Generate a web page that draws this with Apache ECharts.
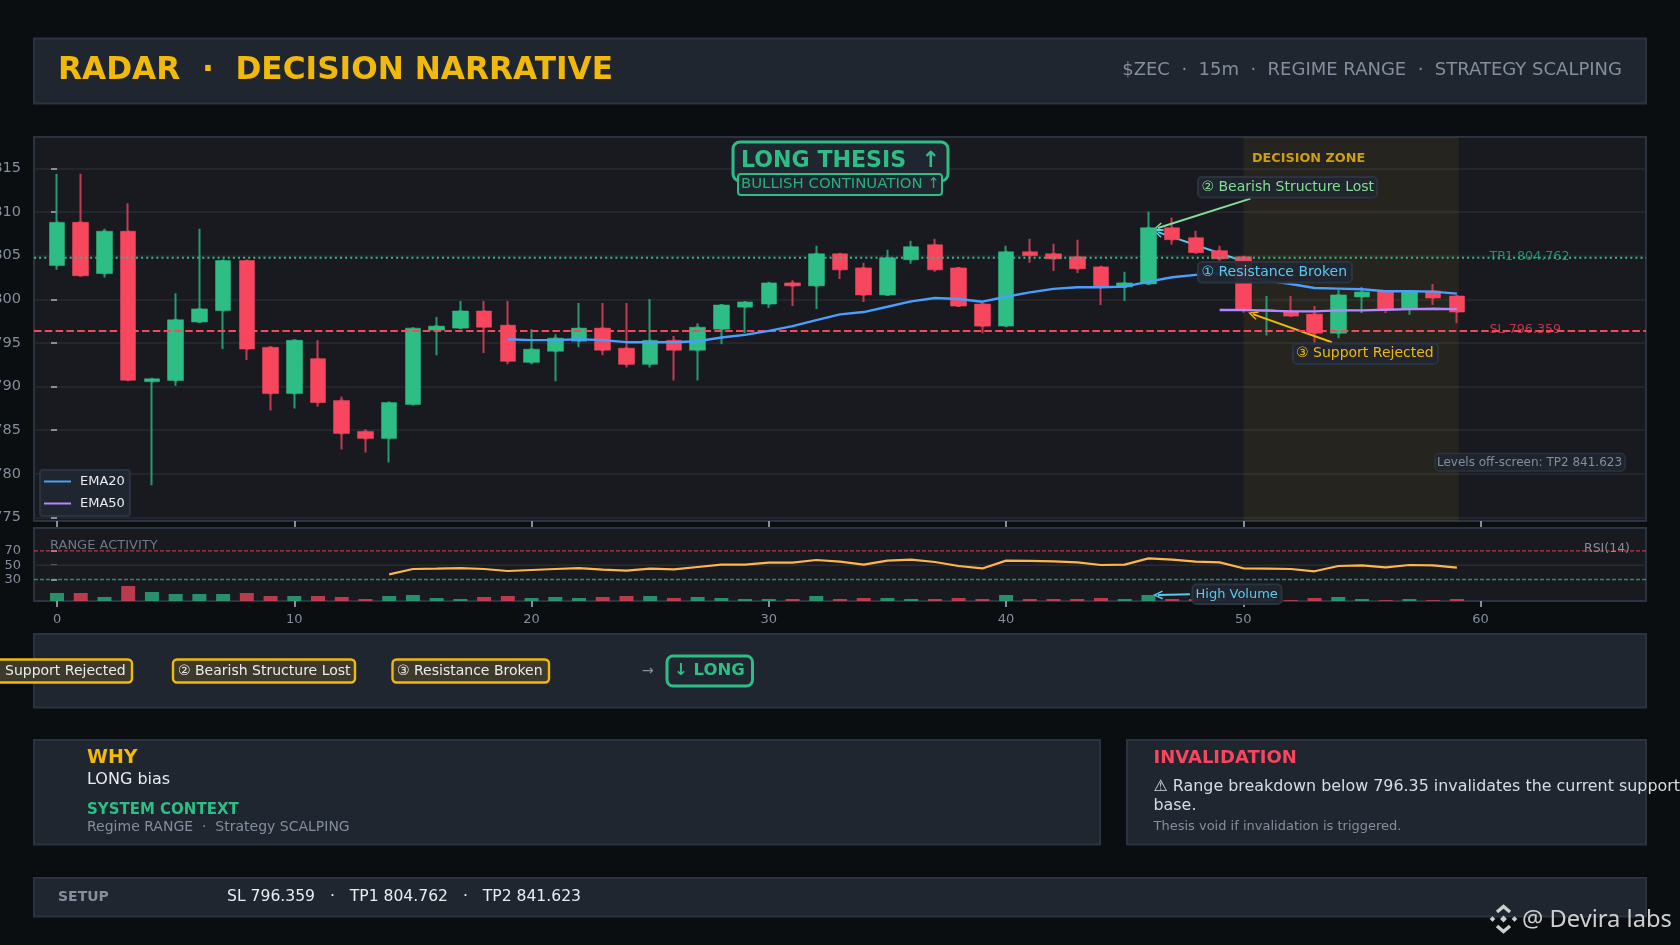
<!DOCTYPE html>
<html><head><meta charset="utf-8">
<style>html,body{margin:0;padding:0;background:#0b0e11;overflow:hidden}#c{width:1680px;height:945px}</style>
<script src="https://cdn.jsdelivr.net/npm/echarts@6/dist/echarts.min.js"></script></head>
<body><div id="c"></div>
<script>
const indices=[0,1,2,3,4,5,6,7,8,9,10,11,12,13,14,15,16,17,18,19,20,21,22,23,24,25,26,27,28,29,30,31,32,33,34,35,36,37,38,39,40,41,42,43,44,45,46,47,48,49,50,51,52,53,54,55,56,57,58,59];
const opens=[803.87,808.82,802.95,807.8,790.57,790.7,797.4,798.7,804.45,794.5,789.2,793.2,788.4,784.86,784.06,787.95,796.47,796.7,798.66,797.04,792.78,794.05,795.2,796.7,794.4,792.55,795.3,794.17,796.58,799.1,799.46,801.88,801.54,805.22,803.6,800.5,804.53,806.26,803.6,799.46,796.93,805.45,805.22,804.88,803.72,801.42,801.77,808.2,807.06,805.57,804.88,798.65,798.66,798.3,796.12,800.27,800.96,798.89,800.96,800.38];
const closes=[808.82,802.7,807.8,790.73,790.9,797.65,798.9,804.45,794.3,789.2,795.3,788.17,784.63,784.06,788.17,796.7,796.93,798.66,796.8,792.9,794.28,795.55,796.7,794.17,792.55,795.3,794.17,796.8,799.35,799.7,801.88,801.54,805.22,803.38,800.5,804.76,806.03,803.38,799.23,796.93,805.45,805,804.64,803.5,801.42,801.88,808.2,806.83,805.34,804.64,798.77,798.8,798.08,796.12,800.5,800.84,798.77,800.96,800.15,798.54];
const lows=[803.4,802.7,802.5,790.73,778.7,790.1,797.4,794.3,793.05,787.26,787.5,787.7,782.8,782.46,781.3,787.95,793.6,796.58,793.86,792.55,792.55,790.6,794.5,793.6,792.2,792.2,790.7,790.7,794.86,796.1,799,799.23,798.9,802.34,799.7,800.5,804.07,803.15,799.23,796.12,796.93,804.18,803.26,803.03,799.35,799.8,801.65,806.26,805.22,804.41,798.46,795.85,797.97,794.97,795.55,798.43,798.43,798.2,799.35,797.27];
const highs=[814.4,814.4,808.1,811,790.9,800.7,808.1,804.45,804.55,794.5,795.3,795.3,788.86,785.1,788.17,796.8,797.97,799.8,799.8,799.8,796.58,796,799.58,799.58,799.58,800.04,795.8,797.27,799.35,799.7,802,802.2,806.14,805.22,804.18,805.68,806.72,806.95,803.6,799.46,806.14,806.95,806.37,806.83,803.72,803.15,810.06,809.37,807.87,806.14,804.88,800.38,800.38,799.23,801.07,801.42,800.96,800.96,801.76,800.38];
const volumes=[8,8,4,15,9,7,7,7,8,5,5,5,4,2,5,6,3,2,4,5,3,4,3,4,5,5,3,4,3,2,2,2,5,2,3,3,2,2,3,2,6,2,2,2,3,2,6,2,2,2,2,2,0.8,3,4,2,0.8,2,0.8,2];
const ema20=[null,null,null,null,null,null,null,null,null,null,null,null,null,null,null,null,null,null,null,795.43,795.32,795.32,795.43,795.32,795.09,795.09,795.09,795.2,795.62,795.93,796.39,796.93,797.62,798.27,798.54,799.15,799.77,800.15,800.04,799.73,800.3,800.8,801.2,801.38,801.38,801.46,802.03,802.53,802.8,803,802.6,802.15,801.76,801.3,801.23,801.15,800.92,800.92,800.88,800.65];
const ema50=[null,null,null,null,null,null,null,null,null,null,null,null,null,null,null,null,null,null,null,null,null,null,null,null,null,null,null,null,null,null,null,null,null,null,null,null,null,null,null,null,null,null,null,null,null,null,null,null,null,798.77,798.77,798.7,798.62,798.62,798.73,798.73,798.81,798.88,798.92,798.88];
const rsi=[null,null,null,null,null,null,null,null,null,null,null,null,null,null,37.3,44.7,45.2,46,44.7,41.9,43.3,44.7,46,43.8,42.4,45.2,44.2,47.5,50.8,50.8,53.6,53.6,57.3,55,50.8,56.4,57.8,54.5,48.9,45.5,56.4,56,55.4,54,50.3,50.8,59.6,57.8,55,54,45.7,45.2,44.7,41.5,48.9,49.9,47,50.3,49.9,46.6];
const xTicks=[0,10,20,30,40,50,60];
const priceTicks=[775,780,785,790,795,800,805,810,815];
const rsiTicks=[30,50,70];
const sl=796.359, tp1=804.762;
const zone=[50,59.08];
const xRange=[-0.97,66.97], priceRange=[774.6,818.6], rsiRange=[0,102], volRange=[0,73];

const UP='#2ebd85',DN='#f9465f',UPW='#26996f',DNW='#c43a50',YEL='#f0b90b',GR='#848e9c',TXT='#eaecef',
 PANEL='#1f2630',BORDER='#2b3340',CHART='#181a20',CY='#5cc8f0',LG='#86dd96';
const F='"DejaVu Sans"';

const wickData=indices.map(i=>[i,opens[i],closes[i],lows[i],highs[i]]);
const bodyData=indices.map(i=>[i,opens[i],closes[i],Math.min(opens[i],closes[i]),Math.max(opens[i],closes[i])]);
const pts=a=>indices.map(i=>[i,a[i]]);
const tag=(s)=>({type:'value',gridIndex:s,min:xRange[0],max:xRange[1],
 axisLine:{show:false},splitLine:{show:false},
 axisTick:{show:true,length:6,customValues:xTicks,lineStyle:{color:GR,width:2}},
 axisLabel:{show:s===1,customValues:xTicks,color:GR,fontFamily:F,fontSize:13,margin:12}});

function panel(x,y,w,h,fill){return {type:'rect',silent:true,z:-5,shape:{x,y,width:w,height:h},style:{fill:fill||PANEL,stroke:BORDER,lineWidth:2}};}
function txt(x,y,t,size,color,o={}){return {type:'text',silent:true,z:o.z||50,style:Object.assign({x,y,text:t,fontFamily:o.font||F,fontSize:size,fontWeight:o.w||'normal',fill:color,align:o.a||'left',verticalAlign:'middle',opacity:o.o==null?1:o.o},o.extra||{})};}
function box(x,y,w,h,fill,stroke,lw,r,z){return {type:'rect',silent:true,z:z||48,shape:{x,y,width:w,height:h,r:r||4},style:{fill,stroke,lineWidth:lw}};}
function dia(cx,cy,r,c){return {type:'polygon',silent:true,z:50,shape:{points:[[cx,cy-r],[cx+r,cy],[cx,cy+r],[cx-r,cy]]},style:{fill:c}};}
function chevr(pts,c){return {type:'polyline',silent:true,z:50,shape:{points:pts},style:{stroke:c,lineWidth:3.4,fill:null}};}

const ARROW='path://M0,11 L5,0 L10,11 L8.4,11.8 L5,3.6 L1.6,11.8 Z';
function arrow(from,to,c,xi,yi){return {name:c,type:'line',xAxisIndex:xi,yAxisIndex:yi,data:[],silent:true,z:30,
 markLine:{silent:true,animation:false,symbol:['none',ARROW],symbolSize:[9,10],label:{show:false},lineStyle:{color:c,width:2,type:'solid'},emphasis:{disabled:true},
 data:[[{coord:from,symbol:'none'},{coord:to}]]}};}

const option={animation:false,backgroundColor:'#0b0e11',
 grid:[{left:34,top:137,width:1612,height:384,show:true,backgroundColor:CHART,borderColor:BORDER,borderWidth:2,z:0,outerBoundsMode:'none'},
       {left:34,top:528,width:1612,height:73,show:true,backgroundColor:CHART,borderColor:BORDER,borderWidth:2,z:0,outerBoundsMode:'none'}],
 xAxis:[tag(0),tag(1)],
 yAxis:[{type:'value',gridIndex:0,min:priceRange[0],max:priceRange[1],
   axisLine:{show:false},axisTick:{show:true,length:6,customValues:priceTicks,lineStyle:{color:GR,width:2}},
   axisLabel:{customValues:priceTicks,color:GR,fontFamily:F,fontSize:14.5,margin:13},
   splitLine:{show:true,lineStyle:{color:'#282b31',width:1.5}}},
  {type:'value',gridIndex:1,min:rsiRange[0],max:rsiRange[1],
   axisLine:{show:false},axisTick:{show:true,length:6,customValues:rsiTicks,lineStyle:{color:GR,width:2}},
   axisLabel:{customValues:rsiTicks,color:GR,fontFamily:F,fontSize:13,margin:13},
   splitLine:{show:false}},
  {type:'value',gridIndex:1,min:volRange[0],max:volRange[1],show:false,splitLine:{show:false}}],
 legend:{left:40,top:470,orient:'vertical',data:['EMA20','EMA50'],icon:'rect',itemWidth:27,itemHeight:2,itemGap:9,
   backgroundColor:'#1f2630',borderColor:BORDER,borderWidth:2,borderRadius:3,padding:[5,5,6,4],
   textStyle:{color:TXT,fontFamily:F,fontSize:13,padding:[0,0,0,4]},selectedMode:false,z:40},
 series:[
  {name:'zone',type:'line',data:[],silent:true,z:1,markArea:{silent:true,animation:false,itemStyle:{color:'rgba(240,185,11,0.065)'},label:{show:false},data:[[{xAxis:zone[0]},{xAxis:zone[1]}]]}},
  {name:'wicks',type:'candlestick',xAxisIndex:0,yAxisIndex:0,data:wickData,barWidth:2,silent:true,z:4,
   itemStyle:{color:UPW,color0:DNW,borderColor:UPW,borderColor0:DNW,borderWidth:2}},
  {name:'bodies',type:'candlestick',xAxisIndex:0,yAxisIndex:0,data:bodyData,barWidth:16,silent:true,z:5,
   itemStyle:{color:UP,color0:DN,borderColor:UP,borderColor0:DN,borderWidth:0.5}},
  {name:'TP1',type:'line',data:[[xRange[0],tp1],[xRange[1],tp1]],symbol:'none',silent:true,z:8,lineStyle:{color:UP,width:2,type:[2,3.1]}},
  {name:'SL',type:'line',data:[[xRange[0],sl],[xRange[1],sl]],symbol:'none',silent:true,z:8,lineStyle:{color:DN,width:2,type:[7.5,3.3]}},
  {name:'EMA20',type:'line',data:pts(ema20),symbol:'none',connectNulls:false,silent:true,z:10,lineStyle:{color:'#4a9eff',width:2.4},itemStyle:{color:'#4a9eff'}},
  {name:'EMA50',type:'line',data:pts(ema50),symbol:'none',silent:true,z:10,lineStyle:{color:'#b388ff',width:2.4},itemStyle:{color:'#b388ff'}},
  {name:'volume',type:'bar',xAxisIndex:1,yAxisIndex:2,barWidth:14,silent:true,z:4,
   data:indices.map(i=>({value:[i,volumes[i]],itemStyle:{color:closes[i]>=opens[i]?'rgba(46,189,133,0.72)':'rgba(249,70,95,0.72)'}}))},
  {name:'rsi50',type:'line',xAxisIndex:1,yAxisIndex:1,data:[[xRange[0],50],[xRange[1],50]],symbol:'none',silent:true,z:3,lineStyle:{color:'#282b31',width:1.5}},
  {name:'rsi70',type:'line',xAxisIndex:1,yAxisIndex:1,data:[[xRange[0],70],[xRange[1],70]],symbol:'none',silent:true,z:5,lineStyle:{color:'rgba(249,70,95,0.7)',width:1.4,type:[4,2]}},
  {name:'rsi30',type:'line',xAxisIndex:1,yAxisIndex:1,data:[[xRange[0],30],[xRange[1],30]],symbol:'none',silent:true,z:5,lineStyle:{color:'rgba(46,189,133,0.7)',width:1.4,type:[4,2]}},
  {name:'RSI',type:'line',xAxisIndex:1,yAxisIndex:1,data:pts(rsi),symbol:'none',silent:true,z:8,lineStyle:{color:'#ffb547',width:2.2}},
  arrow([50.3,811.54],[46.4,808.17],LG,0,0),
  arrow([49.87,804.47],[46.4,807.7],CY,0,0),
  arrow([53.73,795.08],[50.4,798.3],YEL,0,0),
  arrow([47.75,6.7],[46.4,6],CY,1,2)
 ],
 graphic:[
  panel(34,38.5,1612,65),
  panel(34,634,1612,73.5),
  panel(34,740,1066,104.5),
  panel(1127,740,519,104.5),
  panel(34,878,1612,38.5),
  // header
  txt(58,70.5,'RADAR  ·  DECISION NARRATIVE',31.2,YEL,{w:'bold'}),
  txt(1622,70.5,'$ZEC  ·  15m  ·  REGIME RANGE  ·  STRATEGY SCALPING',18,GR,{a:'right'}),
  // chart overlays
  box(733,142,215,39,PANEL,UP,3,7,46),
  txt(741,161.5,'LONG THESIS  ↑',22.1,UP,{w:'bold',z:47}),
  box(738,174,204,21,PANEL,UP,2,3,48),
  txt(741,184,'BULLISH CONTINUATION ↑',14.9,UP,{z:49,o:0.9}),
  txt(1252,159,'DECISION ZONE',12.8,'#cf9f10',{w:'bold'}),
  box(1198,177,179,20.5,'rgba(31,38,48,0.92)',BORDER,2),
  txt(1201.5,187.5,'② Bearish Structure Lost',14,LG),
  box(1198,262,154,20.5,'rgba(31,38,48,0.92)',BORDER,2),
  txt(1201.5,272,'① Resistance Broken',14,CY),
  box(1293,343.5,145,20.5,'rgba(31,38,48,0.92)',BORDER,2),
  txt(1296,353.5,'③ Support Rejected',14,YEL),
  txt(1489.5,257,'TP1 804.762',12.7,UP,{o:0.7,z:6}),
  txt(1489.5,330,'SL 796.359',12.7,DN,{o:0.7,z:6}),
  box(1435,453.5,190,17.5,'rgba(31,38,48,0.92)',BORDER,1.5),
  txt(1437,463,'Levels off-screen: TP2 841.623',12,GR),
  txt(50,545.5,'RANGE ACTIVITY',13,GR,{o:0.8}),
  txt(1584,548.5,'RSI(14)',12.5,GR),
  box(1192.5,584.5,89,19.5,'rgba(31,38,48,0.92)',BORDER,2),
  txt(1195.5,594.5,'High Volume',13,CY),
  // flow chips
  box(-20,659.5,152,23,'#3e3a2a',YEL,2.4,4),
  txt(5,671,'Support Rejected',14,TXT),
  box(173,659.5,182,23,'#3e3a2a',YEL,2.4,4),
  txt(178,671,'② Bearish Structure Lost',14,TXT),
  box(392.5,659.5,156.5,23,'#3e3a2a',YEL,2.4,4),
  txt(397,671,'③ Resistance Broken',14,TXT),
  txt(642,671,'→',14,GR),
  box(667,656,85.5,30,PANEL,UP,3,6),
  txt(674,671,'↓ LONG',16.5,UP,{w:'bold'}),
  // why
  txt(87,758.5,'WHY',19,YEL,{w:'bold'}),
  txt(87,780,'LONG bias',16,TXT),
  txt(87,810.5,'SYSTEM CONTEXT',15,UP,{w:'bold'}),
  txt(87,827.5,'Regime RANGE  ·  Strategy SCALPING',14,GR),
  // invalidation
  txt(1153.5,758.5,'INVALIDATION',18,DN,{w:'bold'}),
  txt(1153.5,786.5,'⚠ Range breakdown below 796.35 invalidates the current support',15.9,'#d8dce2'),
  txt(1153.5,805.5,'base.',15.9,'#d8dce2'),
  txt(1153.5,826.5,'Thesis void if invalidation is triggered.',13,GR),
  // setup
  txt(58,897,'SETUP',14,GR,{w:'bold'}),
  txt(227,897,'SL 796.359   ·   TP1 804.762   ·   TP2 841.623',15.6,TXT),
  // watermark
  chevr([[1497,912],[1503.5,906.5],[1510,912]],'#cfcfcf'),
  chevr([[1497,926],[1503.5,931.5],[1510,926]],'#cfcfcf'),
  dia(1503.5,919,3.4,'#cfcfcf'),dia(1492.5,919,2.8,'#cfcfcf'),dia(1514.5,919,2.8,'#cfcfcf'),
  txt(1522,920,'@ Devira labs',23.7,'#cfcfcf',{font:'"Noto Sans"'})
 ]};
const chart=echarts.init(document.getElementById('c'),null,{renderer:'canvas'});
chart.setOption(option);
</script></body></html>
